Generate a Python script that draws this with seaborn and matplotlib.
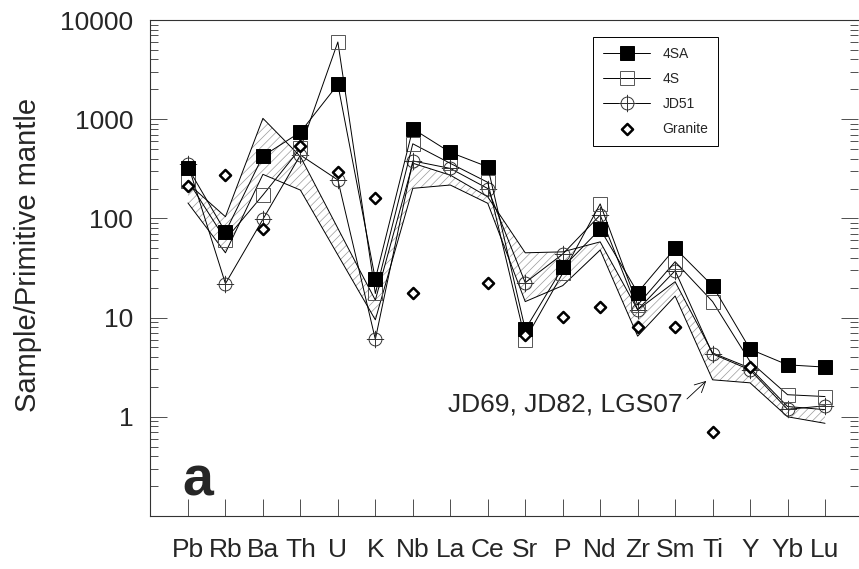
import numpy as np
import pandas as pd
import matplotlib
matplotlib.use("Agg")
import matplotlib.pyplot as plt
from matplotlib.path import Path
from matplotlib.ticker import FixedLocator, FixedFormatter, LogLocator, NullFormatter
import seaborn as sns

# ---------------- data ----------------
elements = ["Pb", "Rb", "Ba", "Th", "U", "K", "Nb", "La", "Ce", "Sr",
            "P", "Nd", "Zr", "Sm", "Ti", "Y", "Yb", "Lu"]

s_4SA = [324, 73, 425, 740, 2240, 24.4, 800, 463, 331, 7.6,
         32, 78, 17.9, 50, 20.9, 4.8, 3.34, 3.17]
s_4S = [240, 61, 172, 508, 6000, 17.5, 565, 359, 231, 6.0,
        28, 140, 13.4, 36.6, 14.5, 3.6, 1.67, 1.6]
s_JD51 = [350, 22, 98, 435, 244, 6.05, 380, 319, 200, 22.5,
          43.7, 108, 12, 29.7, 4.3, 2.97, 1.19, 1.29]
granite = [214, 273, 78, 536, 292, 159, 17.6, np.nan, 22.5, 6.7,
           10.2, 12.7, 8.1, 8.1, 0.70, 3.17, np.nan, np.nan]

# field of JD69, JD82, LGS07 (no U value)
band_elements = ["Pb", "Rb", "Ba", "Th", "K", "Nb", "La", "Ce", "Sr",
                 "P", "Nd", "Zr", "Sm", "Ti", "Y", "Yb", "Lu"]
band_upper = [225, 104, 1020, 420, 15, 360, 273, 165, 45,
              46, 58, 12, 23, 4.4, 3.1, 1.27, 1.18]
band_lower = [143, 45, 278, 193, 9.5, 201, 217, 142, 14.5,
              21, 48, 6.5, 16.5, 2.36, 2.2, 1.0, 0.86]

y_ticks = [0.1, 1, 10, 100, 1000, 10000]
y_tick_labels = ["", "1", "10", "100", "1000", "10000"]

# ---------------- style ----------------
sns.set_style("ticks")
plt.rcParams["font.family"] = ["Liberation Sans", "DejaVu Sans"]
plt.rcParams["hatch.linewidth"] = 0.5

pos = {e: i for i, e in enumerate(elements)}
df = pd.DataFrame({"pos": np.arange(len(elements)), "4SA": s_4SA,
                   "4S": s_4S, "JD51": s_JD51, "Granite": granite})
bdf = pd.DataFrame({"pos": [pos[e] for e in band_elements],
                    "upper": band_upper, "lower": band_lower})

fig = plt.figure(figsize=(8.59, 5.69), dpi=100)
ax = fig.add_axes([150 / 859, 53 / 569, 708 / 859, 496 / 569])

# hatched field
ax.fill_between(bdf["pos"], bdf["lower"], bdf["upper"], facecolor="none",
                edgecolor="#9a9a9a", hatch="////", linewidth=0, zorder=1)
sns.lineplot(data=bdf, x="pos", y="upper", ax=ax, color="black", lw=0.7,
             sort=False, estimator=None, zorder=2)
sns.lineplot(data=bdf, x="pos", y="lower", ax=ax, color="black", lw=0.7,
             sort=False, estimator=None, zorder=2)

# circle with cross marker
circ = Path.unit_circle()
cross = Path([(-1.35, 0), (1.35, 0), (0, -1.35), (0, 1.35)],
             [Path.MOVETO, Path.LINETO, Path.MOVETO, Path.LINETO])
circ_cross = Path.make_compound_path(circ, cross)

sns.lineplot(data=df, x="pos", y="JD51", ax=ax, color="black", lw=0.7,
             marker=circ_cross, markersize=12.5, markerfacecolor="none",
             markeredgecolor="#333333", markeredgewidth=0.7,
             sort=False, estimator=None, label="JD51", zorder=3)
sns.lineplot(data=df, x="pos", y="4S", ax=ax, color="black", lw=0.7,
             marker="s", markersize=9.5, markerfacecolor="none",
             markeredgecolor="#555555", markeredgewidth=0.7,
             sort=False, estimator=None, label="4S", zorder=4)
sns.lineplot(data=df, x="pos", y="4SA", ax=ax, color="black", lw=0.7,
             marker="s", markersize=10, markerfacecolor="black",
             markeredgecolor="black", markeredgewidth=0.7,
             sort=False, estimator=None, label="4SA", zorder=5)
gdf = df.dropna(subset=["Granite"])
sns.scatterplot(data=gdf, x="pos", y="Granite", ax=ax, marker="D", s=32,
                facecolor="white", edgecolor="black", linewidth=1.8,
                label="Granite", zorder=6)

ax.set_yscale("log")
ax.set_ylim(0.1, 10000)
ax.set_xlim(-1.013, 17.88)

# ticks
ax.set_xticks(range(len(elements)))
ax.set_xticklabels(elements)
ax.yaxis.set_major_locator(FixedLocator(y_ticks))
ax.yaxis.set_major_formatter(FixedFormatter(y_tick_labels))
ax.yaxis.set_minor_locator(LogLocator(base=10, subs=np.arange(2, 10)))
ax.yaxis.set_minor_formatter(NullFormatter())
ax.tick_params(axis="x", direction="in", length=12, width=0.6, top=False,
               bottom=True, labelsize=19, pad=16, color="#333333")
ax.tick_params(axis="y", which="major", direction="in", length=12, width=0.6,
               left=True, right=True, labelsize=19, pad=12, color="#333333")
ax.tick_params(axis="y", which="minor", direction="in", length=6, width=0.6,
               left=True, right=True, color="#333333")

for side in ["left", "bottom", "top"]:
    ax.spines[side].set_linewidth(0.8)
    ax.spines[side].set_color("#333333")
ax.spines["right"].set_visible(False)

ax.set_xlabel("")
ax.set_ylabel("Sample/Primitive mantle", fontsize=21)
ax.yaxis.set_label_coords(-0.153, 0.526)

# annotations
ax.text(0.046, 0.042, "a", transform=ax.transAxes, fontsize=40,
        fontweight="bold", ha="left", va="baseline")
ax.annotate("JD69, JD82, LGS07", xy=(13.83, 2.3), xytext=(6.93, 1.12),
            fontsize=19, ha="left", va="baseline",
            arrowprops=dict(arrowstyle="->", lw=0.6, color="black",
                            shrinkA=0, shrinkB=0,
                            relpos=(1.02, 0.75)))

# legend
handles, labels = ax.get_legend_handles_labels()
order = ["4SA", "4S", "JD51", "Granite"]
hd = dict(zip(labels, handles))
leg = ax.legend([hd[k] for k in order], order, loc="upper left",
                bbox_to_anchor=(0.626, 0.966), borderaxespad=0,
                fontsize=10, frameon=True, fancybox=False, framealpha=1,
                edgecolor="black", handlelength=3.4, handletextpad=0.9,
                labelspacing=0.8, borderpad=0.7)
leg.get_frame().set_linewidth(0.7)

fig.savefig("out.png", dpi=100)
